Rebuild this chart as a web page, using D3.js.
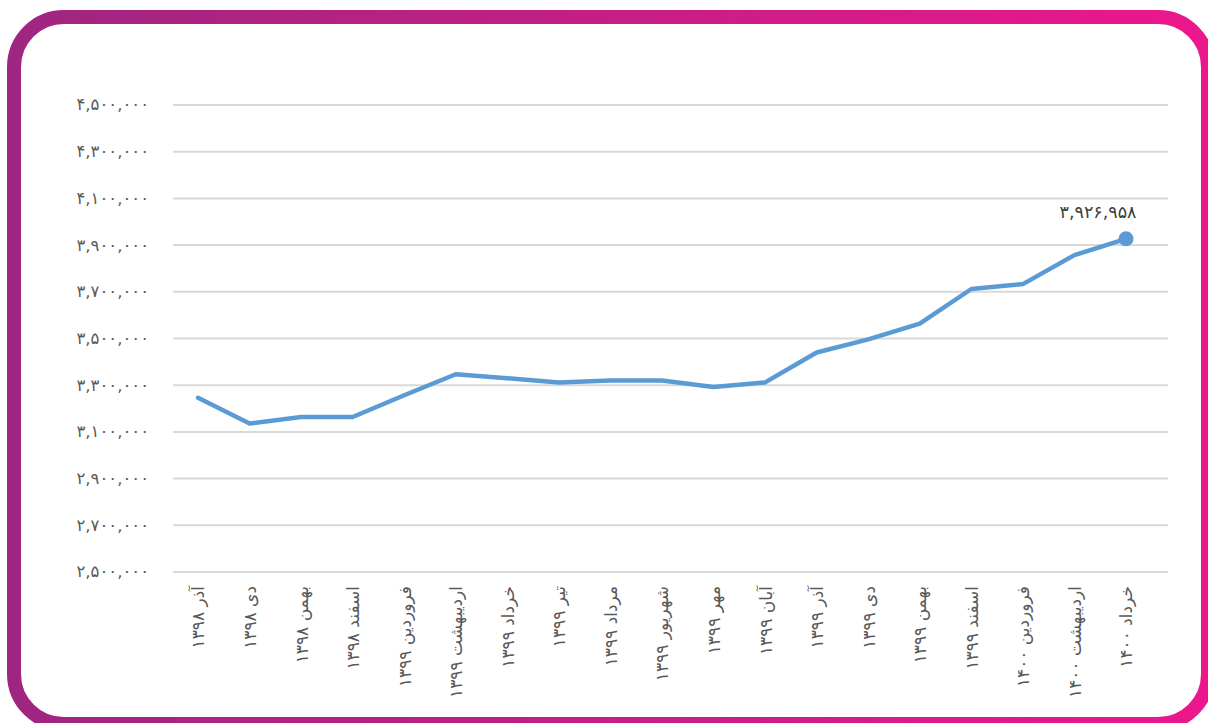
<!DOCTYPE html>
<html>
<head>
<meta charset="utf-8">
<script src="https://cdn.jsdelivr.net/npm/d3@7"></script>
<style>
  body { margin: 0; background: #fff; }
  svg { display: block; }
  .tick text { font-family: "DejaVu Sans", sans-serif; }
</style>
</head>
<body>
<svg id="chart" width="1208" height="723"></svg>
<script>
// months (Persian calendar) shown on the x axis
const months = [
  "آذر ۱۳۹۸", "دی ۱۳۹۸", "بهمن ۱۳۹۸", "اسفند ۱۳۹۸",
  "فروردین ۱۳۹۹", "اردیبهشت ۱۳۹۹", "خرداد ۱۳۹۹", "تیر ۱۳۹۹",
  "مرداد ۱۳۹۹", "شهریور ۱۳۹۹", "مهر ۱۳۹۹", "آبان ۱۳۹۹",
  "آذر ۱۳۹۹", "دی ۱۳۹۹", "بهمن ۱۳۹۹", "اسفند ۱۳۹۹",
  "فروردین ۱۴۰۰", "اردیبهشت ۱۴۰۰", "خرداد ۱۴۰۰"
];
// values (last one is labelled)
const values = [
  3246000, 3136000, 3164000, 3164000,
  3257000, 3347000, 3330000, 3312000,
  3320000, 3320000, 3292000, 3312000,
  3440000, 3496000, 3564000, 3712000,
  3733000, 3857000, 3926958
];
const yTicks = [2500000, 2700000, 2900000, 3100000, 3300000, 3500000,
                3700000, 3900000, 4100000, 4300000, 4500000];

const faDigits = "۰۱۲۳۴۵۶۷۸۹";
const toFa = s => String(s).replace(/\d/g, d => faDigits[+d]);
const fmt = v => toFa(d3.format(",")(v));

const svg = d3.select("#chart");

// gradient frame
const defs = svg.append("defs");
const grad = defs.append("linearGradient")
    .attr("id", "frame").attr("x1", "0%").attr("x2", "100%");
grad.append("stop").attr("offset", "0%").attr("stop-color", "#9f2680");
grad.append("stop").attr("offset", "100%").attr("stop-color", "#ec178c");

svg.append("rect")
    .attr("x", 14).attr("y", 17)
    .attr("width", 1194).attr("height", 707)
    .attr("rx", 50).attr("ry", 50)
    .attr("fill", "#fff")
    .attr("stroke", "url(#frame)")
    .attr("stroke-width", 14);

const x = d3.scalePoint()
    .domain(months)
    .range([198, 1126]);

const y = d3.scaleLinear()
    .domain([2500000, 4500000])
    .range([572, 105]);

// horizontal gridlines
svg.append("g")
    .selectAll("line")
    .data(yTicks)
    .join("line")
        .attr("x1", 173).attr("x2", 1168)
        .attr("y1", d => y(d)).attr("y2", d => y(d))
        .attr("stroke", "#d9d9d9")
        .attr("stroke-width", 2);

// y axis labels
const yAxis = svg.append("g")
    .attr("transform", "translate(149,0)")
    .call(d3.axisLeft(y).tickValues(yTicks).tickSize(0).tickPadding(0).tickFormat(fmt));
yAxis.select(".domain").remove();
yAxis.selectAll("text")
    .attr("fill", "#595959")
    .attr("font-size", 16.5)
    .attr("dy", "0.3em");

// x axis labels, rotated
const xAxis = svg.append("g")
    .attr("transform", "translate(0,586)")
    .call(d3.axisBottom(x).tickSize(0).tickPadding(0));
xAxis.select(".domain").remove();
xAxis.selectAll("text")
    .attr("fill", "#595959")
    .attr("font-size", 17)
    .attr("text-anchor", "end")
    .attr("transform", "rotate(-90)")
    .attr("x", 0)
    .attr("y", 0)
    .attr("dy", "0.35em");

// the line
const line = d3.line()
    .x((d, i) => x(months[i]))
    .y(d => y(d));

svg.append("path")
    .datum(values)
    .attr("d", line)
    .attr("fill", "none")
    .attr("stroke", "#5b9bd5")
    .attr("stroke-width", 4.5)
    .attr("stroke-linejoin", "round")
    .attr("stroke-linecap", "round");

// end marker and its label
const last = values.length - 1;
svg.append("circle")
    .attr("cx", x(months[last]))
    .attr("cy", y(values[last]))
    .attr("r", 7.5)
    .attr("fill", "#5b9bd5");

svg.append("text")
    .attr("x", x(months[last]) - 28)
    .attr("y", y(values[last]) - 21)
    .attr("text-anchor", "middle")
    .attr("font-family", "DejaVu Sans, sans-serif")
    .attr("font-size", 17.5)
    .attr("fill", "#404040")
    .text(fmt(values[last]));
</script>
</body>
</html>
